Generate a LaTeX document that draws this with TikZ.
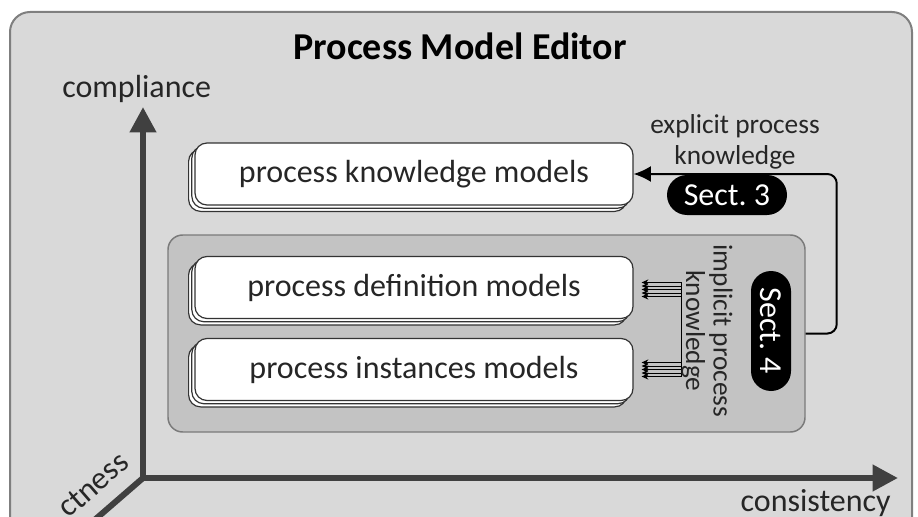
\documentclass[tikz,border=0pt]{standalone}
\usepackage{fontspec}
\setmainfont{Carlito}
\usetikzlibrary{positioning,shadows,shapes.misc,arrows.meta}

\definecolor{editorbg}{HTML}{D9D9D9}
\definecolor{editorline}{HTML}{7F7F7F}
\definecolor{panelbg}{HTML}{C3C3C3}
\definecolor{panelline}{HTML}{7A7A7A}
\definecolor{axisgray}{HTML}{404040}
\definecolor{txtgray}{HTML}{262626}
\definecolor{boxline}{HTML}{333333}

\newcommand{\titlefont}{\bfseries\fontsize{28.5}{32}\selectfont}
\newcommand{\modelfont}{\fontsize{24}{28}\selectfont}
\newcommand{\notefont}{\fontsize{20.5}{23}\selectfont}

\tikzset{
  modelbox/.style={draw=boxline, fill=white, line width=0.9pt, rounded corners=9pt,
    minimum width=328.5pt, minimum height=46.5pt, inner sep=0pt, font=\modelfont, text=txtgray,
    double copy shadow={shadow xshift=-2.4pt, shadow yshift=-2.4pt}},
  panelbox/.style={draw=panelline, fill=panelbg, line width=1.1pt, rounded corners=11pt,
    minimum width=477.75pt, minimum height=147.75pt, inner sep=0pt},
  sectpill/.style={rounded rectangle, fill=black, text=white, minimum width=90pt,
    minimum height=30pt, inner sep=0pt, font=\modelfont},
  lbl/.style={text=txtgray, inner sep=0pt},
  axis/.style={line width=4.5pt, draw=axisgray,
    {Triangle[length=19pt,width=19pt]}-{Triangle[length=19pt,width=19pt]}},
  bundle/.style={line width=0.6pt, -{Stealth[length=5pt,width=4.5pt]}},
  explarrow/.style={line width=1.5pt, rounded corners=7pt, -{Latex[length=13pt,width=12pt]}}
}

\begin{document}
\begin{tikzpicture}[x=0.75pt,y=0.75pt,yscale=-1,xscale=1]
\useasboundingbox (0,0) rectangle (918,517);
\clip (0,0) rectangle (918,517);

%Shape: Editor frame
\draw[draw=editorline, fill=editorbg, line width=1.5pt, rounded corners=15pt] (10,12) rectangle (912,570);
% Text Node
\node[lbl, font=\titlefont, text=black, anchor=base] (title) at (460,60) {Process Model Editor};

%Axes
\coordinate (origin) at (143,478);
\coordinate (complTip) at (143,107);
\coordinate (consTip) at (898,478);
\coordinate (corrEnd) at (53,556);
\draw[axis] (complTip) -- (origin) -- (consTip);
\draw[line width=4.5pt, draw=axisgray] (origin) -- (corrEnd);
% Axis labels
\node[lbl, font=\modelfont, anchor=base west] (compl) at (62,98) {compliance};
\node[lbl, font=\modelfont, anchor=base east] (consis) at (891,511) {consistency};
\node[lbl, font=\modelfont, rotate=41, anchor=base east] (correct) at (131,465) {ctness};

%Shape: implicit panel
\node[panelbox] (panel) at (486.5,333.5) {};

%Model stacks
\node[modelbox] (pkm) at (414,174) {process knowledge models};
\node[modelbox] (pdm) at (414,287.5) {process definition models};
\node[modelbox] (pim) at (414,369.5) {process instances models};

%Implicit knowledge bundles
\foreach \dy in {-7,-3.5,0,3.5,7}{
  \draw[bundle] ([shift={(48,\dy+2)}]pdm.east) -- ([shift={(8,\dy+2)}]pdm.east);
  \draw[bundle] ([shift={(48,\dy)}]pim.east) -- ([shift={(8,\dy)}]pim.east);
}
\draw[line width=0.6pt] ([shift={(48,-5)}]pdm.east) -- ([shift={(48,7)}]pim.east);

% Text Node
\node[lbl, font=\fontsize{20.5}{20.5}\selectfont, rotate=-90, align=center] (implTxt) at (707,331) {implicit process\\knowledge};
\node[sectpill, rotate=-90] (sect4) at (771,331) {Sect.~4};

%Explicit knowledge feedback
\draw[explarrow] (panel.east) -- ++(31,0) |- (pkm.east);
\node[lbl, font=\notefont, align=center] (explTxt) at (735,142) {explicit process\\knowledge};
\node[sectpill] (sect3) at (727,195) {Sect.~3};

\end{tikzpicture}
\end{document}
